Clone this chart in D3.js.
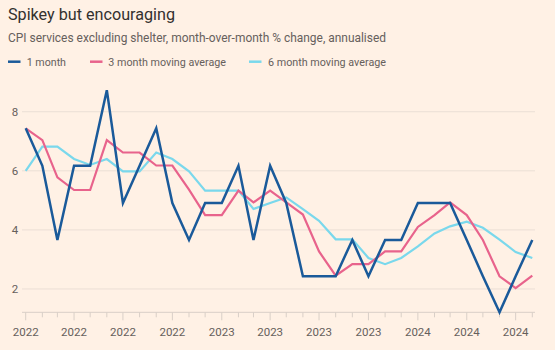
<!DOCTYPE html>
<html><head><meta charset="utf-8">
<script src="https://cdn.jsdelivr.net/npm/d3@7"></script>
<style>
html,body{margin:0;padding:0;background:#fff1e5;}
svg{display:block;}
</style></head><body>
<svg id="c" width="555" height="350"></svg>
<script>
const months = ["2022-01","2022-02","2022-03","2022-04","2022-05","2022-06","2022-07","2022-08","2022-09","2022-10","2022-11","2022-12",
"2023-01","2023-02","2023-03","2023-04","2023-05","2023-06","2023-07","2023-08","2023-09","2023-10","2023-11","2023-12",
"2024-01","2024-02","2024-03","2024-04","2024-05","2024-06","2024-07","2024-08"];
const oneMonth = [7.44,6.17,3.66,6.17,6.17,8.73,4.91,6.17,7.44,4.91,3.66,4.91,4.91,6.17,3.66,6.17,4.91,2.43,2.43,2.43,3.66,2.43,3.66,3.66,4.91,4.91,4.91,3.66,2.43,1.21,2.43,3.66];
const threeMonth = [7.44,7.04,5.78,5.35,5.35,7.04,6.62,6.62,6.18,6.18,5.36,4.5,4.5,5.33,4.93,5.33,4.93,4.52,3.27,2.45,2.84,2.84,3.27,3.27,4.1,4.5,4.93,4.5,3.66,2.43,2.03,2.45];
const sixMonth = [6.0,6.82,6.82,6.4,6.2,6.4,5.98,5.98,6.62,6.4,5.98,5.33,5.33,5.33,4.71,4.91,5.1,4.7,4.31,3.68,3.68,3.05,2.84,3.05,3.44,3.88,4.12,4.28,4.07,3.67,3.25,3.05];
const yTicks = [2,4,6,8];
const seriesNames = ["1 month","3 month moving average","6 month moving average"];
const seriesColors = ["#1a5a9a","#e8638c","#7ad8ec"];

const svg = d3.select("#c");
const parse = d3.timeParse("%Y-%m");
const dates = months.map(parse);

const x = d3.scaleTime().domain(d3.extent(dates)).range([25.7, 532.3]);
const y = d3.scaleLinear().domain([d3.min(oneMonth), 8.76]).range([312.3, 89.3]);

const txt = "#33302e", grey = "#66605c";
const font = "Roboto, 'Noto Sans', sans-serif";

svg.append("text").attr("x",8).attr("y",19.5).attr("font-family",font).attr("font-size",16.5)
  .attr("fill",txt).attr("textLength",167).attr("lengthAdjust","spacingAndGlyphs").text("Spikey but encouraging");
svg.append("text").attr("x",8).attr("y",42.3).attr("font-family",font).attr("font-size",12.2)
  .attr("fill",grey).attr("textLength",378).attr("lengthAdjust","spacingAndGlyphs")
  .text("CPI services excluding shelter, month-over-month % change, annualised");

// legend
const legX = [8, 90, 249];
const legTextX = [26.7, 108.3, 268];
const legTextW = [39.3, 117.7, 118];
seriesNames.forEach((n,i)=>{
  svg.append("line").attr("x1",legX[i]).attr("x2",legX[i]+12.5).attr("y1",61.7).attr("y2",61.7)
    .attr("stroke",seriesColors[i]).attr("stroke-width",2.5);
  svg.append("text").attr("x",legTextX[i]).attr("y",65.5).attr("font-family",font).attr("font-size",11)
    .attr("fill",grey).attr("textLength",legTextW[i]).attr("lengthAdjust","spacingAndGlyphs").text(n);
});

// gridlines
const g = svg.append("g");
yTicks.forEach(t=>{
  g.append("line").attr("x1",22).attr("x2",535).attr("y1",y(t)).attr("y2",y(t))
    .attr("stroke","#ebdfd5").attr("stroke-width",1);
  g.append("text").attr("x",15).attr("y",y(t)+4).attr("text-anchor","middle")
    .attr("font-family",font).attr("font-size",11.5).attr("fill",grey).text(t);
});

// x axis
const ax = svg.append("g").attr("transform","translate(0,312.3)");
ax.append("line").attr("x1",22).attr("x2",535).attr("stroke","#d9cfc7").attr("stroke-width",1);
dates.forEach((d,i)=>{
  const major = i%3===0;
  ax.append("line").attr("x1",x(d)).attr("x2",x(d)).attr("y1",0).attr("y2",major?8:5)
    .attr("stroke","#d9cfc7").attr("stroke-width",1);
  if(major){
    ax.append("text").attr("x",x(d)).attr("y",23.5).attr("text-anchor","middle")
      .attr("font-family",font).attr("font-size",11.5).attr("fill",grey).text(d3.timeFormat("%Y")(d));
  }
});

const line = d3.line().x((d,i)=>x(dates[i])).y(d=>y(d));
const data = [sixMonth, threeMonth, oneMonth];
const cols = [seriesColors[2], seriesColors[1], seriesColors[0]];
const widths = [2.2, 2.2, 2.5];
data.forEach((s,k)=>{
  svg.append("path").datum(s).attr("d",line).attr("fill","none")
    .attr("stroke",cols[k]).attr("stroke-width",widths[k]).attr("stroke-linejoin","miter");
});
</script>
</body></html>
